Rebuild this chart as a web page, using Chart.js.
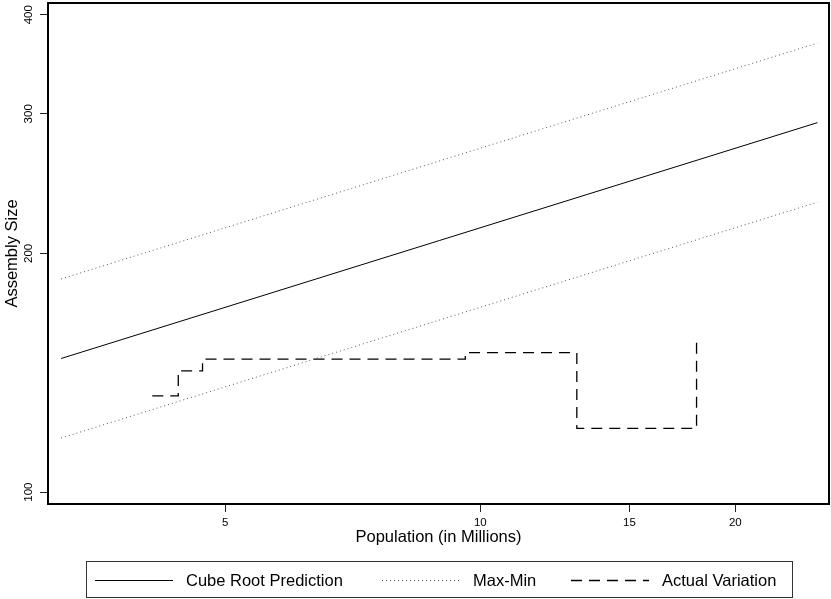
<!DOCTYPE html>
<html>
<head>
<meta charset="utf-8">
<script src="https://cdn.jsdelivr.net/npm/chart.js@4.4.1/dist/chart.umd.min.js"></script>
<style>
  html, body { margin: 0; padding: 0; background: #fff; }
  canvas { display: block; }
</style>
</head>
<body>
<canvas id="assemblyChart" width="831" height="599"></canvas>
<script>
// population range (millions) used for the prediction lines
const popRange = [3.2, 25];
const cubeRoot = [147.4, 292.4];
const maxLine = [185.7, 368.4];
const minLine = [117.0, 232.1];

// actual assembly size, step line
const actualPop = [4.1, 4.4, 4.7, 9.6, 13.0, 18.0];
const actualSize = [132.2, 142.2, 147.1, 149.9, 120.3, 154.8];

const xTicks = [5, 10, 15, 20];
const yTicks = [100, 200, 300, 400];

const FONT = '"Liberation Sans", Arial, Helvetica, sans-serif';

function pts(xs, ys) {
  return xs.map((x, i) => ({ x: x, y: ys[i] }));
}

const datasets = [
  {
    label: "Cube Root Prediction",
    data: pts(popRange, cubeRoot),
    borderColor: "#000",
    borderWidth: 1,
    borderDash: []
  },
  {
    label: "Max-Min",
    data: pts(popRange, maxLine),
    borderColor: "#555",
    borderWidth: 1,
    borderDash: [1, 3]
  },
  {
    label: "Max-Min",
    data: pts(popRange, minLine),
    borderColor: "#555",
    borderWidth: 1,
    borderDash: [1, 3],
    hideInLegend: true
  },
  {
    label: "Actual Variation",
    data: pts(actualPop, actualSize),
    borderColor: "#000",
    borderWidth: 1.3,
    borderDash: [11, 7],
    stepped: "before"
  }
];

// box, tick labels, titles and legend (R style)
const rStyle = {
  id: "rStyle",
  afterDraw(chart) {
    const ctx = chart.ctx;
    const a = chart.chartArea;
    const xs = chart.scales.x;
    const ys = chart.scales.y;
    ctx.save();

    ctx.strokeStyle = "#000";
    ctx.lineWidth = 2;
    ctx.strokeRect(a.left, a.top, a.right - a.left, a.bottom - a.top);

    ctx.fillStyle = "#000";
    ctx.font = "11.5px " + FONT;
    ctx.textAlign = "center";
    ctx.textBaseline = "middle";
    xTicks.forEach(v => {
      ctx.fillText(String(v), xs.getPixelForValue(v), 522.5);
    });
    yTicks.forEach(v => {
      ctx.save();
      ctx.translate(29, ys.getPixelForValue(v));
      ctx.rotate(-Math.PI / 2);
      ctx.fillText(String(v), 0, 0);
      ctx.restore();
    });

    ctx.font = "16.5px " + FONT;
    ctx.textBaseline = "alphabetic";
    ctx.fillText("Population (in Millions)", (a.left + a.right) / 2, 541.5);
    ctx.save();
    ctx.translate(17, (a.top + a.bottom) / 2);
    ctx.rotate(-Math.PI / 2);
    ctx.fillText("Assembly Size", 0, 0);
    ctx.restore();

    // legend
    ctx.strokeStyle = "#333";
    ctx.lineWidth = 1;
    ctx.strokeRect(86.5, 561.5, 706, 36);
    const items = chart.data.datasets.filter(d => !d.hideInLegend);
    const startX = [95, 382, 571];
    const ly = 580.5;
    ctx.textAlign = "left";
    items.forEach((d, i) => {
      ctx.beginPath();
      ctx.setLineDash(d.borderDash);
      ctx.strokeStyle = d.borderColor;
      ctx.lineWidth = d.borderWidth;
      ctx.moveTo(startX[i], ly);
      ctx.lineTo(startX[i] + 78, ly);
      ctx.stroke();
      ctx.setLineDash([]);
      ctx.fillStyle = "#000";
      ctx.fillText(d.label, startX[i] + 91, 586);
    });
    ctx.restore();
  }
};

new Chart(document.getElementById("assemblyChart"), {
  type: "line",
  data: { datasets: datasets },
  options: {
    responsive: false,
    animation: false,
    events: [],
    layout: { padding: { left: 40, right: 2, top: 3, bottom: 87 } },
    elements: {
      point: { radius: 0 },
      line: { tension: 0, fill: false }
    },
    plugins: {
      legend: { display: false },
      tooltip: { enabled: false }
    },
    scales: {
      x: {
        type: "logarithmic",
        min: 3.088,
        max: 25.8,
        afterBuildTicks: s => { s.ticks = xTicks.map(v => ({ value: v })); },
        ticks: { display: false },
        grid: {
          display: true,
          drawOnChartArea: false,
          drawTicks: true,
          tickLength: 8,
          color: "#222",
          lineWidth: 1
        },
        border: { display: false },
        title: { display: false }
      },
      y: {
        type: "logarithmic",
        min: 96.6,
        max: 413.9,
        afterBuildTicks: s => { s.ticks = yTicks.map(v => ({ value: v })); },
        ticks: { display: false },
        grid: {
          display: true,
          drawOnChartArea: false,
          drawTicks: true,
          tickLength: 8,
          color: "#222",
          lineWidth: 1
        },
        border: { display: false },
        title: { display: false }
      }
    }
  },
  plugins: [rStyle]
});
</script>
</body>
</html>
